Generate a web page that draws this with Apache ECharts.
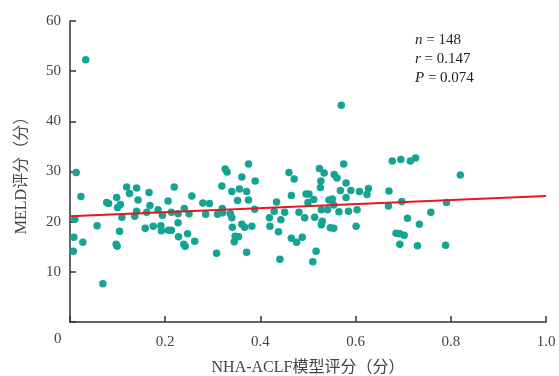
<!DOCTYPE html>
<html>
<head>
<meta charset="utf-8">
<script src="https://cdn.jsdelivr.net/npm/echarts@6/dist/echarts.min.js"></script>
<style>
  html, body { margin: 0; padding: 0; background: #fff; }
  #chart { width: 559px; height: 376px; }
</style>
</head>
<body>
<div id="chart"></div>
<script>
// NHA-ACLF model score vs MELD score
const nhaScore = [
  0.013, 0.023, 0.010, 0.008, 0.007, 0.027, 0.057, 0.069, 0.077, 0.081,
  0.098, 0.106, 0.100, 0.109, 0.104, 0.097, 0.099, 0.119, 0.125, 0.140,
  0.143, 0.140, 0.136, 0.158, 0.166, 0.168, 0.161, 0.175, 0.185, 0.194,
  0.191, 0.192, 0.206, 0.207, 0.213, 0.219, 0.213, 0.227, 0.227, 0.228,
  0.240, 0.250, 0.247, 0.239, 0.242, 0.256, 0.262,
  0.279, 0.293, 0.285, 0.308, 0.310, 0.320, 0.319, 0.326, 0.330, 0.321,
  0.337, 0.340, 0.340, 0.341, 0.347, 0.354, 0.345, 0.352, 0.356, 0.361,
  0.361, 0.367, 0.371, 0.375, 0.375, 0.371, 0.382, 0.388, 0.389, 0.419,
  0.420, 0.429, 0.434, 0.443, 0.438, 0.441, 0.451, 0.460, 0.471, 0.465,
  0.465, 0.476, 0.481, 0.488, 0.493, 0.496, 0.502, 0.500, 0.512, 0.514,
  0.517, 0.510, 0.524, 0.534, 0.527, 0.526, 0.528, 0.530, 0.528, 0.541,
  0.544, 0.547,
  0.575, 0.555, 0.561, 0.580, 0.568, 0.590, 0.580, 0.608, 0.627, 0.624,
  0.551, 0.554, 0.565, 0.585, 0.603, 0.554, 0.601, 0.670, 0.669, 0.697,
  0.677, 0.695, 0.715, 0.726, 0.709, 0.734, 0.758, 0.791, 0.820, 0.685,
  0.693, 0.702, 0.693, 0.730, 0.789,
  0.033, 0.570
];
const meldScore = [
  29.8, 25.0, 20.5, 16.9, 14.1, 15.9, 19.2, 7.6, 23.8, 23.6,
  24.8, 23.4, 22.8, 20.9, 18.1, 15.5, 15.1, 26.9, 25.6, 26.7,
  24.3, 22.1, 21.1, 18.7, 25.8, 23.2, 21.9, 19.1, 22.4, 21.3,
  19.2, 18.2, 24.1, 18.3, 18.3, 26.9, 21.9, 21.6, 19.8, 17.0,
  22.6, 21.6, 17.6, 15.5, 15.1, 25.1, 16.1,
  23.7, 23.6, 21.5, 13.7, 21.5, 22.6, 27.1, 30.5, 29.9, 21.8,
  21.6, 20.8, 26.0, 18.9, 17.1, 17.0, 16.0, 24.2, 26.5, 28.9,
  19.5, 18.9, 26.0, 31.5, 24.3, 13.9, 19.1, 22.5, 28.1, 20.8,
  19.1, 22.1, 23.9, 20.4, 18.0, 12.5, 21.9, 29.8, 28.5, 25.2,
  16.7, 15.9, 21.9, 16.9, 20.8, 25.5, 25.5, 23.8, 24.4, 20.9,
  14.1, 12.0, 30.6, 29.7, 28.1, 26.8, 22.4, 20.1, 19.4, 22.4,
  24.3, 18.8,
  31.5, 29.4, 28.7, 27.7, 26.2, 26.2, 24.8, 26.0, 26.6, 25.4,
  24.5, 23.3, 22.0, 22.1, 22.4, 18.7, 19.1, 26.1, 23.1, 24.0,
  32.1, 32.4, 32.1, 32.7, 20.7, 19.5, 21.9, 23.8, 29.3, 17.7,
  17.6, 17.3, 15.5, 15.2, 15.3,
  52.3, 43.2
];
// fitted line end points
const fitX = [0, 1.0];
const fitY = [21.1, 25.1];
const xTicks = [0, 0.2, 0.4, 0.6, 0.8, 1.0];
const statLines = [['n', '148'], ['r', '0.147'], ['P', '0.074']];

const serif = '"Liberation Serif", "Noto Sans CJK SC", serif';
const axisColor = '#333';

const chart = echarts.init(document.getElementById('chart'), null, { renderer: 'canvas' });

const points = nhaScore.map((x, i) => [x, meldScore[i]]);
const fitLine = fitX.map((x, i) => [x, fitY[i]]);

chart.setOption({
  animation: false,
  textStyle: { fontFamily: serif },
  grid: { left: 70, right: 13, top: 21, bottom: 54, containLabel: false, outerBoundsMode: 'none' },
  xAxis: {
    type: 'value',
    min: xTicks[0],
    max: xTicks[xTicks.length - 1],
    interval: 0.2,
    name: 'NHA-ACLF模型评分（分）',
    nameLocation: 'middle',
    nameGap: 38,
    nameTextStyle: { fontSize: 16, color: '#444', fontFamily: serif },
    axisLine: { show: true, lineStyle: { color: axisColor, width: 1.5 } },
    axisTick: { show: true, inside: true, length: 6, lineStyle: { color: axisColor, width: 1.5 } },
    axisLabel: {
      color: '#444',
      fontSize: 15,
      margin: 13,
      fontFamily: serif,
      formatter: v => (v === 0 ? '' : v.toFixed(1))
    },
    splitLine: { show: false }
  },
  yAxis: {
    type: 'value',
    min: 0,
    max: 60,
    interval: 10,
    name: 'MELD评分（分）',
    nameLocation: 'middle',
    nameGap: 40,
    nameTextStyle: { fontSize: 16, color: '#444', fontFamily: serif },
    axisLine: { show: true, lineStyle: { color: axisColor, width: 1.5 } },
    axisTick: { show: true, inside: true, length: 6, lineStyle: { color: axisColor, width: 1.5 } },
    axisLabel: {
      color: '#444',
      fontSize: 15,
      margin: 9,
      fontFamily: serif,
      formatter: v => (v === 0 ? '' : String(v))
    },
    splitLine: { show: false }
  },
  graphic: [
    {
      type: 'text',
      left: 54,
      top: 332,
      style: { text: '0', fontSize: 15, fill: '#444', fontFamily: serif }
    },
    {
      type: 'group',
      left: 415,
      top: 33,
      children: statLines.map((s, i) => ({
        type: 'text',
        top: i * 19,
        style: {
          text: '{i|' + s[0] + '} = ' + s[1],
          fontSize: 15,
          fill: '#222',
          fontFamily: serif,
          rich: { i: { fontStyle: 'italic', fontSize: 15, fontFamily: serif, fill: '#222' } }
        }
      }))
    }
  ],
  series: [
    {
      type: 'scatter',
      data: points,
      symbolSize: 7.5,
      itemStyle: { color: '#15a494', opacity: 1 }
    },
    {
      type: 'line',
      data: fitLine,
      symbol: 'none',
      lineStyle: { color: '#e8161f', width: 2 },
      z: 3
    }
  ]
});
</script>
</body>
</html>
